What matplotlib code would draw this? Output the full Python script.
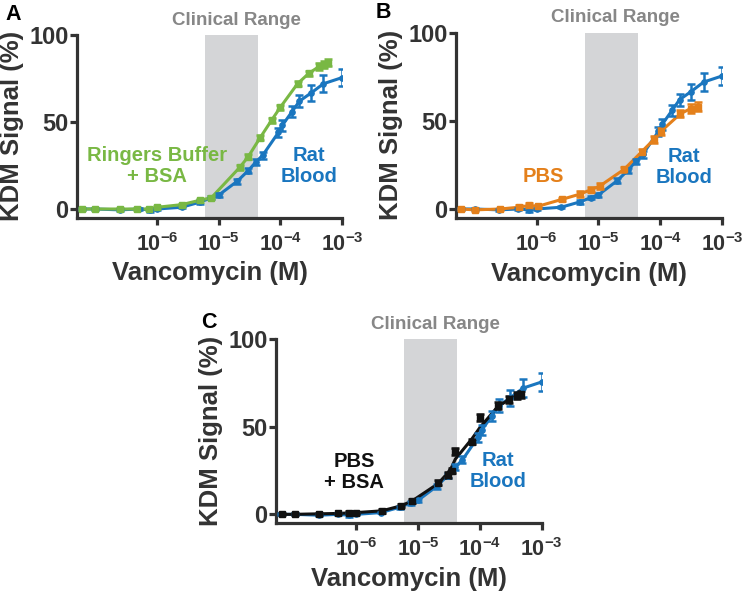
import matplotlib
matplotlib.use('Agg')
import matplotlib.pyplot as plt

plt.rcParams['font.family'] = ['Liberation Sans', 'DejaVu Sans']
plt.rcParams['font.weight'] = 'bold'
plt.rcParams['mathtext.fontset'] = 'custom'
plt.rcParams['mathtext.rm'] = 'Liberation Sans:bold'
plt.rcParams['mathtext.bf'] = 'Liberation Sans:bold'
plt.rcParams['mathtext.it'] = 'Liberation Sans:bold'

# ---------------- data ----------------
blood_conc = [6.0e-8, 1.0e-7, 2.5e-7, 5.0e-7, 7.6e-7, 1.0e-6, 2.5e-6, 5.0e-6, 7.6e-6, 1.0e-5,
              2.0e-5, 3.0e-5, 4.0e-5, 5.2e-5, 9.3e-5, 1.07e-4, 1.55e-4, 2.04e-4, 3.1e-4, 5.0e-4, 1.0e-3]
blood_sig = [0, 0, -0.5, 0, -0.5, 0, 1, 4, 6.5, 8,
             16, 22, 27, 31, 44, 48, 56, 62, 66.5, 72, 75.5]
blood_err = [0.5, 0.5, 0.5, 0.5, 1, 0.5, 0.5, 1, 1, 1,
             1.5, 1.5, 1.5, 2, 2.5, 3, 3, 3.5, 4.5, 5, 5]

ringers_conc = [6.0e-8, 1.0e-7, 2.5e-7, 4.8e-7, 7.4e-7, 1.0e-6, 2.5e-6, 4.9e-6, 7.6e-6, 2.2e-5,
                3.0e-5, 4.7e-5, 7.2e-5, 1.0e-4, 1.9e-4, 2.9e-4, 4.3e-4, 5.1e-4, 5.9e-4]
ringers_sig = [0, 0, 0, 0, 0, 1, 2.5, 5, 6.5, 24,
               30, 41, 51, 58.5, 72, 78, 82, 83, 84]
ringers_err = [0.5, 0.5, 0.5, 0.5, 0.5, 0.5, 0.5, 1, 1, 1.5,
               1.5, 1.5, 1.5, 1.5, 1.5, 1.5, 2, 2, 2]

pbs_conc = [6.0e-8, 1.0e-7, 2.6e-7, 5.2e-7, 7.6e-7, 1.05e-6, 2.6e-6, 5.1e-6, 7.6e-6, 1.05e-5,
            2.6e-5, 5.0e-5, 7.9e-5, 1.02e-4, 2.1e-4, 3.1e-4, 4.1e-4]
pbs_sig = [0, -0.5, 0, 1, 2, 1.5, 5.5, 8.5, 11, 13,
           22.5, 32.5, 39.5, 44, 54, 57, 58]
pbs_err = [0.5, 0.5, 0.5, 1, 1.5, 1, 1, 1.5, 1.5, 1.5,
           1.5, 1.5, 2, 2, 2, 2.5, 2.5]

pbsbsa_conc = [6.3e-8, 1.0e-7, 2.5e-7, 5.0e-7, 7.6e-7, 1.0e-6, 2.6e-6, 5.2e-6, 7.9e-6, 2.1e-5,
               3.0e-5, 3.5e-5, 4.0e-5, 7.4e-5, 1.0e-4, 1.95e-4, 3.0e-4, 4.0e-4, 4.7e-4]
pbsbsa_sig = [0, 0, 0.3, 0.5, 1, 0.5, 2, 5, 7.5, 18,
              22.5, 25, 36, 41.5, 55.5, 62, 65.5, 67.5, 68.5]
pbsbsa_fit = [0, 0, 0.3, 0.5, 0.8, 1, 2, 4.8, 7.5, 17.5,
              23.5, 27, 31.5, 43, 49.5, 61.5, 65.5, 67.5, 68.5]
pbsbsa_err = [0.5, 0.5, 0.5, 0.5, 1, 0.5, 1, 1, 1, 1.5,
              1.5, 1.5, 2, 1.5, 2, 2, 2, 2, 2]

clinical_range = [6.0e-6, 4.3e-5]
xticks = [1e-6, 1e-5, 1e-4, 1e-3]
xticklabels = [r'$\mathbf{10^{-6}}$', r'$\mathbf{10^{-5}}$', r'$\mathbf{10^{-4}}$', r'$\mathbf{10^{-3}}$']
yticks = [0, 50, 100]

GREEN = '#79B844'
BLUE = '#1A76BF'
ORANGE = '#E4801B'
BLACK = '#111111'
DARK = '#333333'
BAND = '#D4D5D7'
GRAYTXT = '#878787'

W, H = 749, 594
fig = plt.figure(figsize=(W / 100, H / 100), dpi=100)


def px_axes(left, top, right, bottom):
    return fig.add_axes([left / W, 1 - bottom / H, (right - left) / W, (bottom - top) / H])


def style(ax):
    ax.set_xscale('log')
    ax.set_xlim(10 ** -7.3, 1e-3)
    ax.set_ylim(-5, 100)
    ax.axvspan(clinical_range[0], clinical_range[1], color=BAND, lw=0, zorder=0)
    for s in ['top', 'right']:
        ax.spines[s].set_visible(False)
    for s in ['left', 'bottom']:
        ax.spines[s].set_linewidth(2.3)
        ax.spines[s].set_color(DARK)
    ax.set_xticks(xticks)
    ax.set_xticklabels(xticklabels)
    ax.minorticks_off()
    ax.set_yticks(yticks)
    ax.set_yticklabels([str(v) for v in yticks])
    ax.tick_params(axis='both', direction='out', length=5, width=2.3, colors=DARK)
    ax.tick_params(axis='x', labelsize=15.5, pad=6)
    ax.tick_params(axis='y', labelsize=17, pad=1)
    ax.set_xlabel('Vancomycin (M)', fontsize=18.5, fontweight='bold', color=DARK, labelpad=4)
    ax.set_ylabel('KDM Signal (%)', fontsize=18.5, fontweight='bold', color=DARK, labelpad=4)


def series(ax, x, y, e, color, marker, ms, fit=None):
    ax.plot(x, fit if fit is not None else y, color=color, lw=2.2, zorder=2)
    ax.errorbar(x, y, yerr=e, fmt=marker, color=color, ms=ms, elinewidth=1.8,
                capsize=3.2, capthick=1.8, zorder=3)


def clinical(ax):
    ax.text(0.60, 1.035, 'Clinical Range', transform=ax.transAxes, ha='center', va='bottom',
            fontsize=13.5, fontweight='bold', color=GRAYTXT)


# Panel A
axA = px_axes(77, 35, 342, 217.7)
style(axA)
series(axA, blood_conc, blood_sig, blood_err, BLUE, 'o', 3.8)
series(axA, ringers_conc, ringers_sig, ringers_err, GREEN, 's', 4.8)
clinical(axA)
axA.text(0.302, 0.285, 'Ringers Buffer\n+ BSA', transform=axA.transAxes, ha='center', va='center',
         fontsize=14.5, fontweight='bold', color=GREEN, linespacing=1.15)
axA.text(0.875, 0.285, 'Rat\nBlood', transform=axA.transAxes, ha='center', va='center',
         fontsize=14.5, fontweight='bold', color=BLUE, linespacing=1.15)

# Panel B
axB = px_axes(456, 32.7, 722.3, 217.8)
style(axB)
series(axB, blood_conc, blood_sig, blood_err, BLUE, 'o', 3.8)
series(axB, pbs_conc, pbs_sig, pbs_err, ORANGE, 's', 4.8)
clinical(axB)
axB.text(0.328, 0.224, 'PBS', transform=axB.transAxes, ha='center', va='center',
         fontsize=14.5, fontweight='bold', color=ORANGE)
axB.text(0.857, 0.273, 'Rat\nBlood', transform=axB.transAxes, ha='center', va='center',
         fontsize=14.5, fontweight='bold', color=BLUE, linespacing=1.15)

# Panel C
axC = px_axes(276, 339, 541.7, 523.1)
style(axC)
series(axC, blood_conc, blood_sig, blood_err, BLUE, 'o', 3.8)
series(axC, pbsbsa_conc, pbsbsa_sig, pbsbsa_err, BLACK, 's', 4.8, fit=pbsbsa_fit)
clinical(axC)
axC.text(0.294, 0.279, 'PBS\n+ BSA', transform=axC.transAxes, ha='center', va='center',
         fontsize=14.5, fontweight='bold', color=BLACK, linespacing=1.15)
axC.text(0.834, 0.284, 'Rat\nBlood', transform=axC.transAxes, ha='center', va='center',
         fontsize=14.5, fontweight='bold', color=BLUE, linespacing=1.15)

# Panel letters
for lbl, (x, y) in zip(['A', 'B', 'C'], [(13, 15), (383, 13), (209, 322)]):
    fig.text(x / W, 1 - y / H, lbl, ha='center', va='center', fontsize=15.5,
             fontweight='bold', color='black')

fig.savefig('out.png', dpi=100)
